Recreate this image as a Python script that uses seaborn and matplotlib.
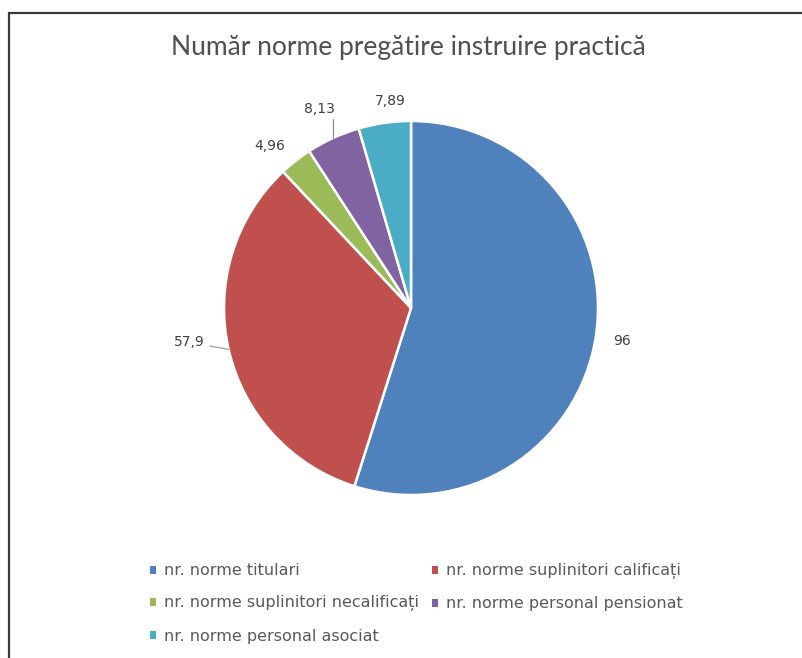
import matplotlib
matplotlib.use("Agg")
import matplotlib.pyplot as plt
import seaborn as sns
import numpy as np
from matplotlib.patches import Rectangle, Patch

# ---- data ----
categories = [
    "nr. norme titulari",
    "nr. norme suplinitori calificați",
    "nr. norme suplinitori necalificați",
    "nr. norme personal pensionat",
    "nr. norme personal asociat",
]
values = [96, 57.9, 4.96, 8.13, 7.89]
value_labels = ["96", "57,9", "4,96", "8,13", "7,89"]
colors = ["#4F81BD", "#C0504D", "#9BBB59", "#8064A2", "#4BACC6"]
title = "Număr norme pregătire instruire practică"

# ---- style ----
sns.set_theme(style="white")
plt.rcParams['font.family'] = ['Lato', 'DejaVu Sans']

W, H = 803, 658
fig = plt.figure(figsize=(W / 100, H / 100), dpi=100)
fig.patch.set_facecolor("white")

# frame (chart border, cropped on right/bottom)
fig.patches.append(Rectangle((8.5 / W, -0.1), 1.2, (H - 12.5) / H + 0.1,
                             transform=fig.transFigure, fill=False,
                             edgecolor="#3a3a3a", linewidth=1.6))

cx, cy, r = 411, 308, 187
ax = fig.add_axes([(cx - r) / W, (H - cy - r) / H, 2 * r / W, 2 * r / H])
pal = sns.color_palette(colors)
wedges, _ = ax.pie(values, colors=pal, startangle=90, counterclock=False,
                   radius=1, wedgeprops=dict(edgecolor="white", linewidth=1.8))
ax.set_xlim(-1, 1)
ax.set_ylim(-1, 1)
ax.set_aspect("equal")
ax.axis("off")

# label placement (distance from centre in radii, angular offset in degrees)
label_dist = [1.14, 1.2, 1.15, 1.17, 1.11]
label_rot = [0, -4, 3, 0, -2.5]
for i, w in enumerate(wedges):
    mid = (w.theta1 + w.theta2) / 2
    th = np.deg2rad(mid)
    ex, ey = np.cos(th), np.sin(th)
    tl = np.deg2rad(mid + label_rot[i])
    lx, ly = label_dist[i] * np.cos(tl), label_dist[i] * np.sin(tl)
    if i == 3:
        ax.plot([ex, ex], [ey, ly - 0.055], color="#8c8c8c", lw=0.9, clip_on=False)
    if i == 1:
        ax.plot([ex, lx + 0.11], [ey, ly - 0.02], color="#a0a0a0", lw=0.9, clip_on=False)
    ax.text(lx, ly, value_labels[i], ha="center", va="center",
            fontsize=10, color="#404040", family=["DejaVu Sans"])

fig.text(408 / W, 1 - 47 / H, title, ha="center", va="center",
         fontsize=19, color="#505050")

# legend filled row by row (2 columns)
order = [0, 2, 4, 1, 3]
handles = [Patch(facecolor=pal[i], edgecolor="none") for i in order]
labels = [categories[i] for i in order]
fig.legend(handles, labels, ncol=2, loc="upper left",
           bbox_to_anchor=(136 / W, 1 - 549 / H), frameon=False,
           handlelength=0.38, handleheight=0.38, handletextpad=0.5,
           columnspacing=0.8, labelspacing=1.07,
           prop={"family": "DejaVu Sans", "size": 11.5},
           labelcolor="#595959")

fig.savefig("out.png", dpi=100, facecolor="white")
